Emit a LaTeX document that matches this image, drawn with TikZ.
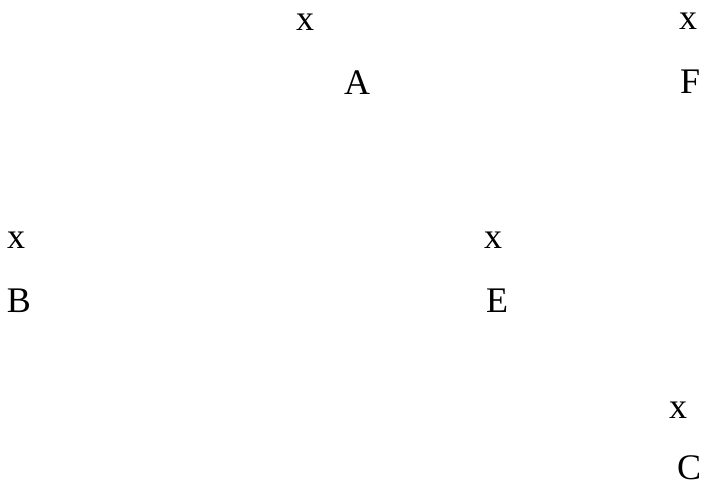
\documentclass[tikz,border=0pt]{standalone}
\usepackage{fontspec}
\setmainfont{Liberation Serif}
\usetikzlibrary{positioning}

\tikzset{
  cross/.style={inner sep=0pt, font=\fontsize{36}{40}\selectfont},
  lbl/.style={inner sep=0pt, font=\fontsize{36}{40}\selectfont}
}

\begin{document}
\begin{tikzpicture}[x=1pt, y=-1pt]
      \useasboundingbox (0,0) rectangle (706,486);

      % Point A
      \node[cross] (xa) at (305,22) {x};
      \node[lbl] (A) at (357,83) {A};

      % Point F
      \node[cross] (xf) at (688,21) {x};
      \node[lbl] (F) at (690,82) {F};

      % Point B
      \node[cross] (xb) at (16,240) {x};
      \node[lbl] (B) at (19,301) {B};

      % Point E
      \node[cross] (xe) at (493,240) {x};
      \node[lbl] (E) at (497,301) {E};

      % Point C
      \node[cross] (xc) at (678,410) {x};
      \node[lbl] (C) at (689,468) {C};
    \end{tikzpicture}
\end{document}
